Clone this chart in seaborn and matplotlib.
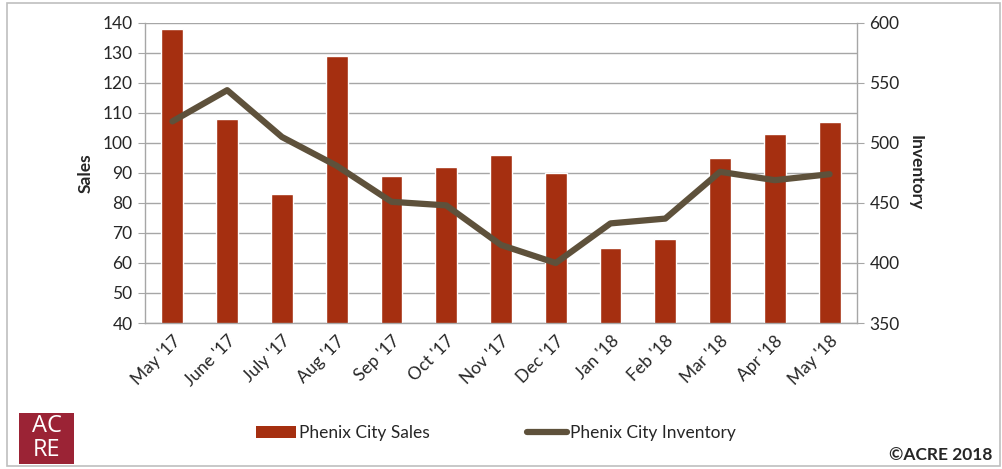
import matplotlib
matplotlib.use("Agg")
import matplotlib.pyplot as plt
import seaborn as sns
import pandas as pd
from matplotlib.patches import Patch, Rectangle
from matplotlib.lines import Line2D

months = ["May '17", "June '17", "July '17", "Aug '17", "Sep '17", "Oct '17", "Nov '17",
          "Dec '17", "Jan '18", "Feb '18", "Mar '18", "Apr '18", "May '18"]
sales = [138, 108, 83, 129, 89, 92, 96, 90, 65, 68, 95, 103, 107]
inventory = [518, 544, 505, 481, 451, 448, 415, 400, 433, 437, 476, 469, 474]

bar_color = "#A52F10"
line_color = "#5E513B"
grid_color = "#A6A6A6"

sns.set_style("white")
plt.rcParams["font.family"] = ["Lato", "DejaVu Sans"]

df = pd.DataFrame({"month": months, "sales": sales, "inventory": inventory})

fig = plt.figure(figsize=(10.03, 4.69), dpi=100)
ax = fig.add_axes([0.1446, 0.3113, 0.7098, 0.6397])

sns.barplot(data=df, x="month", y="sales", color=bar_color, width=0.4,
            saturation=1, ax=ax, zorder=2)
ax.set_ylim(40, 140)
ax.set_yticks(range(40, 141, 10))
ax.yaxis.grid(True, color=grid_color, linewidth=1, zorder=0)
ax.set_axisbelow(True)
ax.set_xlim(-0.5, len(months) - 0.5)

ax2 = ax.twinx()
sns.lineplot(x=list(range(len(months))), y=inventory, color=line_color, linewidth=4.5,
             ax=ax2, solid_capstyle="round", solid_joinstyle="round")
ax2.set_ylim(350, 600)
ax2.set_yticks(range(350, 601, 50))
ax2.set_xlim(-0.5, len(months) - 0.5)

for a in (ax, ax2):
    for side in a.spines:
        a.spines[side].set_visible(False)
ax.spines["left"].set_visible(True)
ax.spines["bottom"].set_visible(True)
ax2.spines["right"].set_visible(True)
for sp in (ax.spines["left"], ax.spines["bottom"], ax2.spines["right"]):
    sp.set_color(grid_color)
    sp.set_linewidth(1)

fs = 12.5
ax.set_xticks(range(len(months)))
ax.set_xticklabels(months, rotation=45, ha="right", rotation_mode="anchor", fontsize=fs)
ax.tick_params(axis="x", which="major", length=0, pad=7)
ax.set_xticks([i - 0.5 for i in range(len(months) + 1)], minor=True)
ax.tick_params(axis="x", which="minor", length=5, color=grid_color, direction="out")
ax.tick_params(axis="y", length=5, color=grid_color, labelsize=fs, direction="out", pad=4)
ax2.tick_params(axis="y", length=5, color=grid_color, labelsize=fs, direction="out", pad=4)

ax.set_xlabel("")
ax.set_ylabel("Sales", fontsize=fs, fontweight="bold", labelpad=6)
ax2.set_ylabel("Inventory", fontsize=fs, fontweight="bold", rotation=270, labelpad=17)

handles = [Patch(facecolor=bar_color, edgecolor="none"),
           Line2D([0], [0], color=line_color, linewidth=4.5, solid_capstyle="round")]
fig.legend(handles, ["Phenix City Sales", "Phenix City Inventory"], ncol=2,
           loc="center", bbox_to_anchor=(496 / 1003, 1 - 433 / 469), frameon=False,
           fontsize=fs, handlelength=2.3, handletextpad=0.2, columnspacing=5.6)

# logo box
logo = Rectangle((19 / 1003, 1 - 464 / 469), 55 / 1003, 51 / 469,
                 transform=fig.transFigure, facecolor="#9B2335", edgecolor="none")
fig.patches.append(logo)
fig.text(46.5 / 1003, 1 - 426 / 469, "AC", color="white", fontsize=17,
         ha="center", va="center", family="Open Sans")
fig.text(46.5 / 1003, 1 - 450 / 469, "RE", color="white", fontsize=17,
         ha="center", va="center", family="Open Sans")

fig.text(992 / 1003, 1 - 455 / 469, "\u00a9ACRE 2018", fontsize=fs, fontweight="bold",
         ha="right", va="center")

# outer frame
frame = Rectangle((7 / 1003, 3 / 469), 993 / 1003, 463 / 469, transform=fig.transFigure,
                  facecolor="none", edgecolor="#BFBFBF", linewidth=1.2)
fig.patches.append(frame)

fig.savefig("out.png", dpi=100)
